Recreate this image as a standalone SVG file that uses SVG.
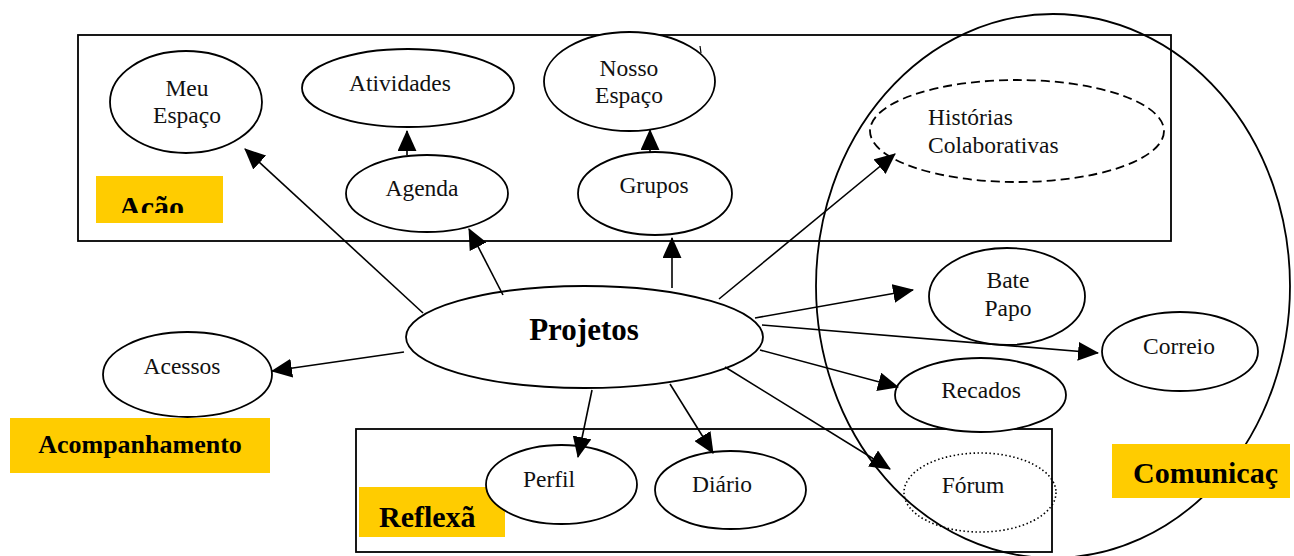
<svg xmlns="http://www.w3.org/2000/svg" width="1294" height="556" viewBox="0 0 1294 556">
<style>
.n{fill:#fff;stroke:#000;stroke-width:1.8}
.frame{fill:none;stroke:#000;stroke-width:1.8}
.t{font-family:"Liberation Serif","Times New Roman",serif;font-size:23.5px;fill:#111;text-anchor:middle}
.tl{font-family:"Liberation Serif","Times New Roman",serif;font-size:23.5px;fill:#111}
.b{font-family:"Liberation Serif","Times New Roman",serif;font-weight:bold;font-size:30px;fill:#000}
.lab{fill:#ffcc00}
.c line{stroke:#000;stroke-width:1.6;marker-end:url(#ah)}
</style>
<defs>
<marker id="ah" viewBox="0 0 20 18" refX="19" refY="9" markerWidth="21" markerHeight="19" markerUnits="userSpaceOnUse" orient="auto">
<path d="M0,0 L20,9 L0,18 z" fill="#000"/>
</marker>
<clipPath id="acaoClip"><rect x="96" y="176" width="127" height="37"/></clipPath>
</defs>
<rect width="1294" height="556" fill="#fff"/>

<g id="frame-acao">
<rect class="frame" x="78" y="35" width="1093" height="206"/>
<rect class="lab" x="96" y="176" width="127" height="47"/>
<text class="b" x="119" y="217" clip-path="url(#acaoClip)">Ação</text>
</g>

<g id="frame-reflexao">
<rect class="frame" x="356" y="429" width="696" height="123"/>
<rect class="lab" x="359" y="487" width="146" height="50"/>
<text class="b" x="379" y="527">Reflexã</text>
</g>

<g id="label-acompanhamento">
<rect class="lab" x="10" y="418" width="260" height="55"/>
<text class="b" x="140" y="453" text-anchor="middle" style="font-size:26px">Acompanhamento</text>
</g>

<g id="frame-comunicacao">
<ellipse class="frame" cx="1053" cy="286" rx="237" ry="272"/>
<rect class="lab" x="1112" y="444" width="178" height="54"/>
<text class="b" x="1133" y="483">Comunicaç</text>
</g>

<path d="M700,46 L701,53" stroke="#000" stroke-width="1.2"/>

<g id="meu-espaco">
<ellipse class="n" cx="186" cy="102" rx="76" ry="51"/>
<text class="t" x="187" y="96">Meu</text>
<text class="t" x="187" y="123">Espaço</text>
</g>
<g id="atividades">
<ellipse class="n" cx="408" cy="88" rx="106" ry="39"/>
<text class="t" x="400" y="91">Atividades</text>
</g>
<g id="agenda">
<ellipse class="n" cx="427" cy="193.5" rx="81" ry="38.5"/>
<text class="t" x="422" y="196">Agenda</text>
</g>
<g id="nosso-espaco">
<ellipse class="n" cx="629.5" cy="81.5" rx="85.5" ry="49.5"/>
<text class="t" x="629" y="76">Nosso</text>
<text class="t" x="629" y="103">Espaço</text>
</g>
<g id="grupos">
<ellipse class="n" cx="655" cy="193.5" rx="77" ry="41.5"/>
<text class="t" x="654" y="193">Grupos</text>
</g>
<g id="historias">
<ellipse cx="1017" cy="131" rx="147" ry="51" fill="none" stroke="#000" stroke-width="1.8" stroke-dasharray="9,5"/>
<text class="tl" x="928" y="125">Histórias</text>
<text class="tl" x="928" y="153">Colaborativas</text>
</g>
<g id="projetos">
<ellipse class="n" cx="584.5" cy="337" rx="178.5" ry="51"/>
<text class="b" x="584" y="340" text-anchor="middle" style="font-size:31px">Projetos</text>
</g>
<g id="acessos">
<ellipse class="n" cx="187.5" cy="374.5" rx="84.5" ry="42.5"/>
<text class="t" x="182" y="374">Acessos</text>
</g>
<g id="bate-papo">
<ellipse class="n" cx="1007" cy="296.5" rx="78" ry="48.5"/>
<text class="t" x="1008" y="288">Bate</text>
<text class="t" x="1008" y="316">Papo</text>
</g>
<g id="correio">
<ellipse class="n" cx="1180" cy="351.5" rx="78" ry="39.5"/>
<text class="t" x="1179" y="354">Correio</text>
</g>
<g id="recados">
<ellipse class="n" cx="980.5" cy="395" rx="85.5" ry="37"/>
<text class="t" x="981" y="398">Recados</text>
</g>
<g id="perfil">
<ellipse class="n" cx="561.5" cy="484.5" rx="75.5" ry="39.5"/>
<text class="t" x="549" y="487">Perfil</text>
</g>
<g id="diario">
<ellipse class="n" cx="730.5" cy="490" rx="75.5" ry="39"/>
<text class="t" x="722" y="492">Diário</text>
</g>
<g id="forum">
<ellipse cx="980" cy="492.5" rx="76" ry="39.5" fill="none" stroke="#000" stroke-width="1.6" stroke-dasharray="1.5,2.5"/>
<text class="t" x="973" y="493">Fórum</text>
</g>

<g id="connectors" class="c">
<line x1="423" y1="313" x2="245" y2="149"/>
<line x1="503" y1="295" x2="469" y2="229"/>
<line x1="407" y1="155" x2="407" y2="131"/>
<line x1="650" y1="152" x2="650" y2="130"/>
<line x1="672" y1="288" x2="672" y2="238"/>
<line x1="719" y1="299" x2="895" y2="154"/>
<line x1="755" y1="318" x2="913" y2="290"/>
<line x1="762" y1="325" x2="1098" y2="353"/>
<line x1="760" y1="350" x2="898" y2="387"/>
<line x1="725" y1="367" x2="890" y2="469"/>
<line x1="670" y1="384" x2="713" y2="453"/>
<line x1="592" y1="390" x2="578" y2="457"/>
<line x1="404" y1="352" x2="272" y2="371"/>
</g>
</svg>
